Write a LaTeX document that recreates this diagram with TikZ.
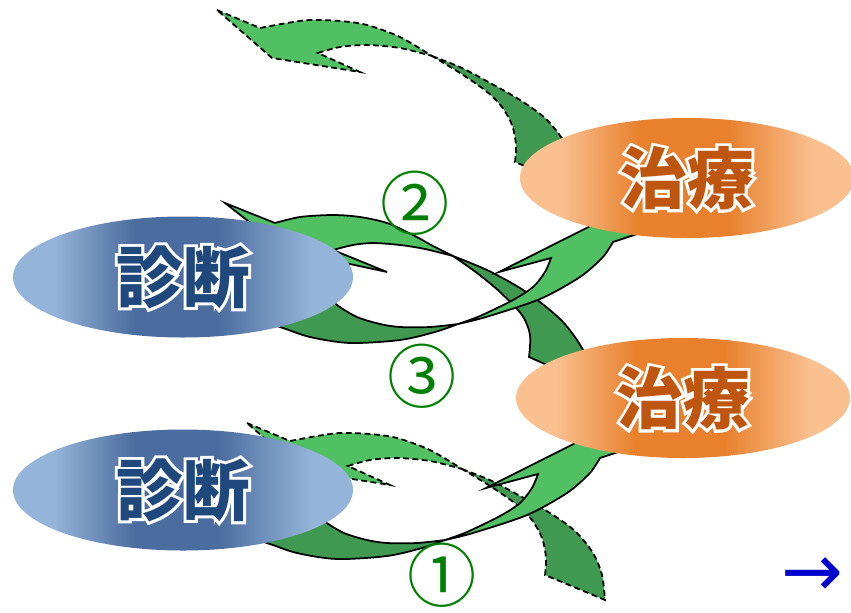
\documentclass[tikz,border=0pt]{standalone}
\usepackage{fontspec}
\usetikzlibrary{shapes.geometric}
\newfontfamily\jpfont{Noto Sans CJK JP}
\newfontfamily\arrfont{DejaVu Sans}
\definecolor{lgreen}{RGB}{80,192,98}
\definecolor{dgreen}{RGB}{64,153,80}
\definecolor{diagL}{RGB}{149,180,217}
\definecolor{diagD}{RGB}{74,108,158}
\definecolor{diagT}{RGB}{31,73,125}
\definecolor{treatL}{RGB}{250,192,144}
\definecolor{treatD}{RGB}{232,128,44}
\definecolor{treatT}{RGB}{190,86,16}
\definecolor{numgreen}{RGB}{0,128,0}
\definecolor{arrblue}{RGB}{0,0,204}
\pgfdeclarehorizontalshading{diagshade}{100bp}{color(0bp)=(diagL); color(31bp)=(diagL);
  color(43bp)=(diagD); color(55bp)=(diagD); color(69bp)=(diagL); color(100bp)=(diagL)}
\pgfdeclarehorizontalshading{treatshade}{100bp}{color(0bp)=(treatL); color(31bp)=(treatL);
  color(43bp)=(treatD); color(56bp)=(treatD); color(69bp)=(treatL); color(100bp)=(treatL)}
% white outline behind the text
\newcommand\halotext[2]{%
  \leavevmode\rlap{\special{pdf:literal direct 1 Tr 5 w}%
    \textcolor{white}{#2}\special{pdf:literal direct 0 Tr}}%
  \textcolor{#1}{#2}}
% dashed ribbon arrow (drawn twice)
\newcommand\dashedloop{%
  \filldraw[ribbon,dashline,fill=lgreen] (217,10) -- (260,28)
    -- plot[smooth] coordinates {(260,28) (287,23) (310,20) (340,21) (367,25) (400,37) (432,56)}
    -- plot[smooth] coordinates {(432,56) (400,48) (367,45) (340,47) (318,53)}
    -- (360,72) -- (272,58) -- cycle;
  \filldraw[ribbon,dashline,fill=dgreen] (432,56)
    -- plot[smooth] coordinates {(432,56) (462,68) (492,84) (520,100) (545,118) (563,140) (572,162) (575,187)}
    -- (515,162)
    -- plot[smooth] coordinates {(515,162) (516,145) (512,125) (502,107) (486,91) (460,73) (432,56)}
    -- cycle;}
% solid ribbon arrow (drawn twice)
\newcommand\solidloop{%
  \filldraw[ribbon,fill=dgreen]
    plot[smooth] coordinates {(240,315) (280,327) (310,337) (350,343) (400,340) (435,332) (458,324)}
    -- plot[smooth] coordinates {(458,324) (430,327) (400,327) (380,324) (357,317) (337,305) (320,290)}
    -- cycle;
  \filldraw[ribbon,fill=lgreen] (458,324)
    -- plot[smooth] coordinates {(458,324) (486,317) (540,299) (580,277) (602,258) (610,247) (613,242)}
    -- (640,233) -- (662,190) -- (499,272) -- (551,258)
    -- plot[smooth] coordinates {(551,258) (545,272) (533,287) (513,300) (480,316) (458,324)}
    -- cycle;}
\begin{document}
\begin{tikzpicture}[line join=miter,>=stealth,x=0.03cm,y=-0.03cm,
    ribbon/.style={draw=black,line width=1.5pt},
    dashline/.style={dash pattern=on 5pt off 3pt},
    diag/.style={ellipse,minimum width=10.2cm,minimum height=3.63cm,inner sep=0pt,
      shading=diagshade},
    treat/.style={ellipse,minimum width=10.02cm,minimum height=3.6cm,inner sep=0pt,
      shading=treatshade},
    nametext/.style={font=\jpfont\bfseries\fontsize{57}{60}\selectfont},
    numlabel/.style={text=numgreen,inner sep=0pt,font=\jpfont\fontsize{59}{62}\selectfont}]
  \useasboundingbox (0,0) rectangle (851,612); %khung
  % ribbons
  \dashedloop %top arrow
  \filldraw[ribbon,fill=lgreen] (225,203) -- (275,223)
    -- plot[smooth] coordinates {(275,223) (300,217) (333,215) (360,217) (387,223) (413,235) (433,246) (453,256)}
    -- plot[smooth] coordinates {(453,256) (425,249) (400,245) (373,243) (353,245) (333,250)}
    -- (387,272) -- (285,250) -- cycle; %arrow back to diagnosis
  \filldraw[ribbon,fill=dgreen] (453,256)
    -- plot[smooth] coordinates {(453,256) (487,270) (520,288) (545,306) (563,322) (577,340) (590,362)}
    -- (600,375) -- (547,365) -- (529,357)
    -- plot[smooth] coordinates {(529,357) (530,335) (522,315) (500,292) (477,273) (453,256)}
    -- cycle;
  \solidloop %middle loop
  \begin{scope}[shift={(30,413)}]
    \dashedloop
  \end{scope}
  \begin{scope}[shift={(-13,216)}]
    \solidloop %bottom loop
  \end{scope}
  % ellipses
  \node[diag,nametext] (diag1) at (183,277) {\halotext{diagT}{診断}};
  \node[diag,nametext] (diag2) at (183,490) {\halotext{diagT}{診断}};
  \node[treat,nametext] (treat1) at (687,178) {\halotext{treatT}{治療}};
  \node[treat,nametext] (treat2) at (683,398) {\halotext{treatT}{治療}};
  % numbers
  \node[numlabel] (step2) at (415,203) {②};
  \node[numlabel] (step3) at (422,376) {③};
  \node[numlabel] (step1) at (442,575) {①};
  \node[anchor=east,inner sep=0pt,text=arrblue,font=\arrfont\fontsize{63}{66}\selectfont] (next) at (844,577) {→};
\end{tikzpicture}
\end{document}
